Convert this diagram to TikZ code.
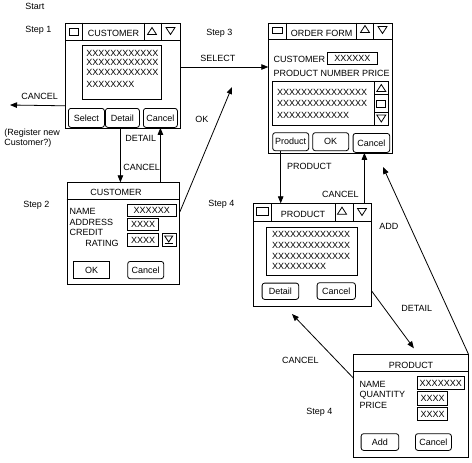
\documentclass[tikz,border=0pt]{standalone}
\usepackage{fontspec}
\setmainfont{Liberation Sans}
\usetikzlibrary{arrows.meta}
\newcommand\uptri[2]{\draw (#1-4.5,#2+3.5) -- (#1+4.5,#2+3.5) -- (#1,#2-3.5) -- cycle;}
\newcommand\dntri[2]{\draw (#1-4.5,#2-3.5) -- (#1+4.5,#2-3.5) -- (#1,#2+3.5) -- cycle;}
\begin{document}
\begin{tikzpicture}[x=1pt,y=-1pt, line width=0.8pt,
 lab/.style={font=\fontsize{9}{10}\selectfont, inner sep=0pt, text height=6.4pt, text depth=0pt},
 lw/.style={lab, anchor=west},
 win/.style={draw, anchor=north west, inner sep=0pt},
 btn/.style={draw, rounded corners=2.5pt, anchor=north west, inner sep=0pt, font=\fontsize{9}{10}\selectfont, text height=6.4pt, text depth=0pt},
 fld/.style={draw, anchor=north west, inner sep=0pt, font=\fontsize{9}{10}\selectfont, text height=6.4pt, text depth=0pt},
 arr/.style={-{Triangle[length=7pt,width=5.5pt]}}]
\useasboundingbox (0,0) rectangle (472,463);

% ---------- free labels ----------
\node[lw] (tstart) at (25,6.7) {Start};
\node[lw] (tstep1) at (25,29) {Step 1};
\node[lw] (tstep3) at (206,32) {Step 3};
\node[lw] (tselect) at (200,58) {SELECT};
\node[lw] (tcancel1) at (21,96.5) {CANCEL};
\node[lw] (treg1) at (4,132.3) {(Register new};
\node[lw] (treg2) at (4,142.7) {Customer?)};
\node[lw] (tdetail1) at (125,138) {DETAIL};
\node[lw] (tcancel2) at (123,167) {CANCEL};
\node[lw] (tok) at (195,119.5) {OK};
\node[lw] (tstep2) at (23,204) {Step 2};
\node[lw] (tstep4a) at (208,203) {Step 4};
\node[lw] (tproduct) at (286.7,166) {PRODUCT};
\node[lw] (tcancel3) at (321.7,194) {CANCEL};
\node[lw] (tadd) at (379,226) {ADD};
\node[lw] (tdetail2) at (401,308) {DETAIL};
\node[lw] (tcancel4) at (281.7,360) {CANCEL};
\node[lw] (tstep4b) at (306,411) {Step 4};

% ---------- window 1: customer list ----------
\node[win, minimum width=115pt, minimum height=105pt] (c1) at (65,22.7) {};
\draw (65,40.7) -- (180,40.7);
\draw (82.7,22.7) -- (82.7,40.7) (144.3,22.7) -- (144.3,40.7) (161.7,22.7) -- (161.7,40.7);
\draw (69,28) rectangle (78,35);
\uptri{152}{31}
\dntri{170.5}{31}
\node[lab] (c1title) at (113.5,33) {CUSTOMER};
\draw (82.3,45.7) rectangle (161,99.3);
\node[lw] (c1r1) at (86,53.3) {XXXXXXXXXXXX};
\node[lw] (c1r2) at (86,62.5) {XXXXXXXXXXXX};
\node[lw] (c1r3) at (86,72.3) {XXXXXXXXXXXX};
\node[lw] (c1r4) at (86,84) {XXXXXXXX};
\node[btn, minimum width=36pt, minimum height=19pt] (b1sel) at (68,108) {Select};
\node[btn, minimum width=34pt, minimum height=19pt] (b1det) at (105,108) {Detail};
\node[btn, minimum width=34pt, minimum height=19pt] (b1can) at (143,108) {Cancel};

% ---------- window 2: customer detail ----------
\node[win, minimum width=112.3pt, minimum height=102pt] (c2) at (66.7,182.3) {};
\draw (66.7,199.3) -- (179,199.3);
\node[lab] (c2title) at (116,192) {CUSTOMER};
\node[lw] (c2name) at (69.3,211) {NAME};
\node[lw] (c2addr) at (69.3,222) {ADDRESS};
\node[lw] (c2cred) at (69.3,232.5) {CREDIT};
\node[lw] (c2rat) at (85,243) {RATING};
\node[fld, minimum width=48.7pt, minimum height=11.7pt] (c2f1) at (127,204.3) {XXXXXX};
\node[fld, minimum width=31.3pt, minimum height=11.7pt] (c2f2) at (127,218.3) {XXXX};
\node[fld, minimum width=31.3pt, minimum height=12.7pt] (c2f3) at (127,233.3) {XXXX};
\node[fld, minimum width=14pt, minimum height=12.7pt] (c2dd) at (161.7,233.3) {};
\draw (164.7,236) -- (172.7,236) -- (168.7,242) -- cycle;
\draw (164.7,243.3) -- (172.7,243.3);
\node[fld, minimum width=36pt, minimum height=17.3pt] (b2ok) at (73.3,261) {OK};
\node[btn, minimum width=36pt, minimum height=17.3pt] (b2can) at (127.3,261) {Cancel};

% ---------- window 3: order form ----------
\node[win, minimum width=123.4pt, minimum height=130.6pt] (of) at (268.3,22.7) {};
\draw (268.3,39.3) -- (391.7,39.3);
\draw (286.7,22.7) -- (286.7,39.3) (356.7,22.7) -- (356.7,39.3) (373.3,22.7) -- (373.3,39.3);
\draw (272.7,27) rectangle (282.3,33);
\uptri{365}{29}
\dntri{382.5}{30}
\node[lab] (oftitle) at (321.7,33) {ORDER FORM};
\node[lw] (ofcust) at (273.3,59.5) {CUSTOMER};
\node[fld, minimum width=49.4pt, minimum height=12.3pt] (offld) at (327.3,51.7) {XXXXXX};
\node[lw] (ofhead) at (273.3,73.3) {PRODUCT NUMBER PRICE};
\draw (272.3,81) rectangle (388.3,125);
\draw (374.3,81) -- (374.3,125) (374.3,94.3) -- (388.3,94.3) (374.3,112.3) -- (388.3,112.3);
\uptri{381.3}{88}
\draw (376.8,100) rectangle (385.8,107.5);
\dntri{381.3}{118.5}
\node[lw] (ofr1) at (276.7,92.5) {XXXXXXXXXXXXXXX};
\node[lw] (ofr2) at (276.7,103.3) {XXXXXXXXXXXXXXX};
\node[lw] (ofr3) at (276.7,115.5) {XXXXXXXXXXXX};
\node[btn, minimum width=36pt, minimum height=18pt] (ofprod) at (272.3,132.3) {Product};
\node[btn, minimum width=36pt, minimum height=18pt] (ofok) at (312.3,132.3) {OK};
\node[btn, minimum width=36.6pt, minimum height=19pt] (ofcan) at (352.7,133) {Cancel};

% ---------- window 4: product list ----------
\node[win, minimum width=117.4pt, minimum height=102.4pt] (p1) at (253.3,203.3) {};
\draw (253.3,221) -- (370.7,221);
\draw (271,203.3) -- (271,221) (335,203.3) -- (335,221) (353,203.3) -- (353,221);
\draw (256.7,207.3) rectangle (268.3,215);
\uptri{342}{210.7}
\dntri{362}{212}
\node[lab] (p1title) at (303,214.5) {PRODUCT};
\draw (266.7,227.3) rectangle (357.3,275.7);
\node[lw] (p1r1) at (271.7,234.2) {XXXXXXXXXXXXX};
\node[lw] (p1r2) at (271.7,245.5) {XXXXXXXXXXXXX};
\node[lw] (p1r3) at (271.7,256) {XXXXXXXXXXXXX};
\node[lw] (p1r4) at (271.7,266.7) {XXXXXXXXX};
\node[btn, minimum width=36.6pt, minimum height=16.3pt] (p1det) at (261.7,282.7) {Detail};
\node[btn, minimum width=38.3pt, minimum height=16.7pt] (p1can) at (316.7,282.3) {Cancel};

% ---------- window 5: product detail ----------
\node[win, minimum width=114.4pt, minimum height=103pt] (p2) at (353.3,354.3) {};
\draw (353.3,371.7) -- (467.7,371.7);
\node[lab] (p2title) at (411,365) {PRODUCT};
\node[lw] (p2name) at (359.3,383.8) {NAME};
\node[lw] (p2qty) at (359.3,394.5) {QUANTITY};
\node[lw] (p2price) at (359.3,405.5) {PRICE};
\node[fld, minimum width=47.3pt, minimum height=13.3pt] (p2f1) at (416.7,376) {XXXXXXX};
\node[fld, minimum width=30pt, minimum height=14pt] (p2f2) at (417.3,391) {XXXX};
\node[fld, minimum width=30pt, minimum height=12.7pt] (p2f3) at (417.3,407.3) {XXXX};
\node[btn, minimum width=37.6pt, minimum height=16.7pt] (p2add) at (360.7,433.3) {Add};
\node[btn, minimum width=36pt, minimum height=16.7pt] (p2can) at (415,433.3) {Cancel};

% ---------- connectors ----------
\coordinate (cancelend) at (10,105);
\coordinate (okend) at (232,87);
\coordinate (addend) at (383,167);
\coordinate (cancel4end) at (292,314);
\draw[arr] ([yshift=-44.3pt]c1.north east) -- ([yshift=-44.3pt]of.north west);
\draw[arr] ([yshift=22.7pt]c1.south west) -- (cancelend);
\draw[arr] ([xshift=-2pt]b1det.south) -- ([xshift=-2pt]b1det.south |- c2.north);
\draw[arr] (b1can.south |- c2.north) -- (b1can.south);
\draw[arr] ([yshift=-29.7pt]c2.north east) -- (okend);
\draw[arr] ([xshift=-10pt]ofprod.south) -- ([xshift=-10pt]ofprod.south |- p1.north);
\draw[arr] ([xshift=-7pt]ofcan.south |- p1.north) -- ([xshift=-7pt]ofcan.south);
\draw[arr] (p2.north east) -- (addend);
\draw[arr] ([yshift=15.7pt]p1.south east) -- ([xshift=3pt,yshift=6pt]p2.north);
\draw[arr] ([yshift=-23.7pt]p2.north west) -- (cancel4end);
\end{tikzpicture}
\end{document}
